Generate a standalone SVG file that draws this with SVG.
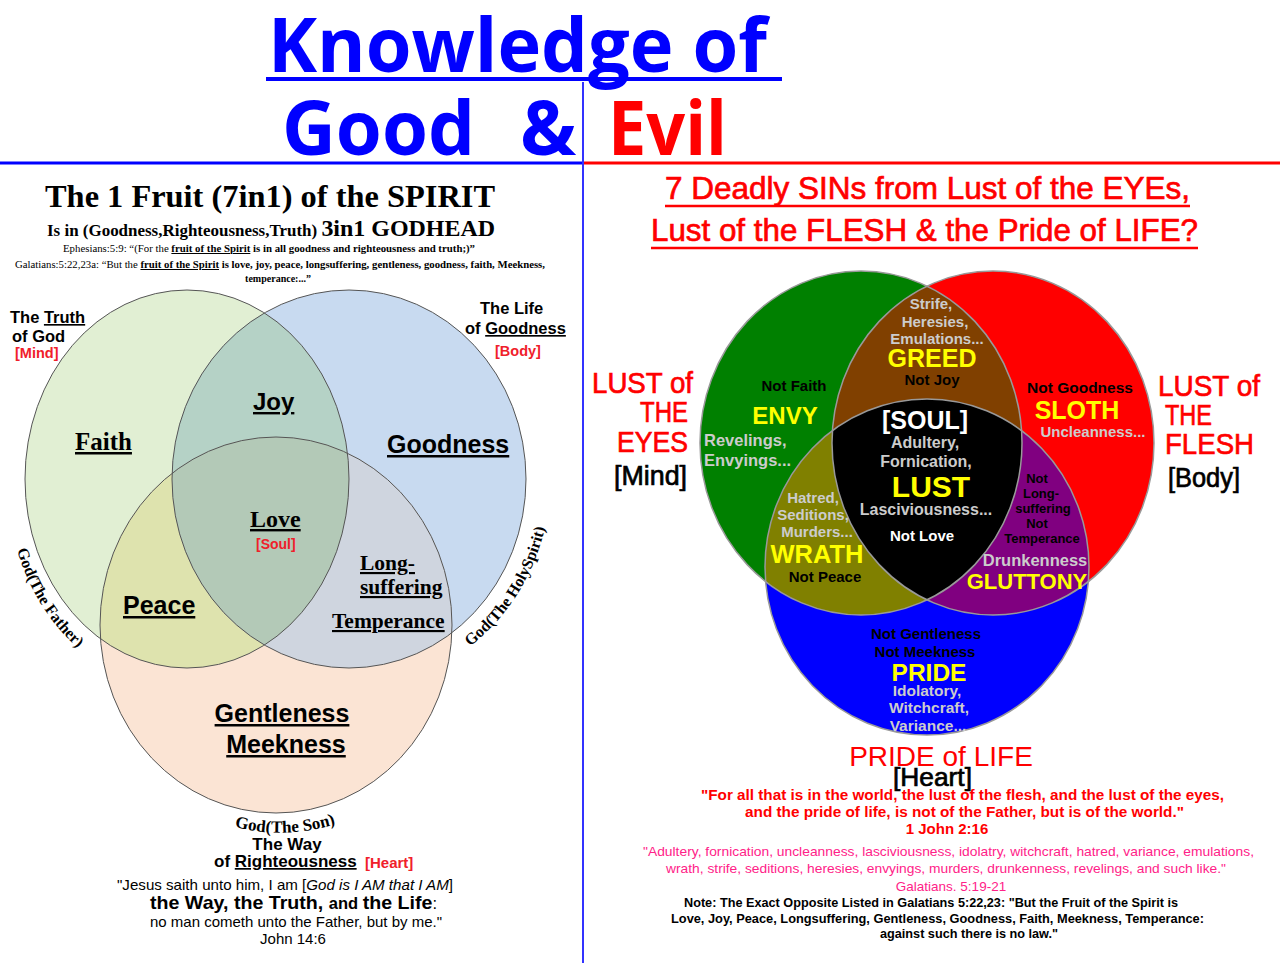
<svg xmlns="http://www.w3.org/2000/svg" width="1280" height="963" viewBox="0 0 1280 963">
<style>
.ser{font-family:"Liberation Serif","Times New Roman",serif;font-weight:bold}
.serr{font-family:"Liberation Serif","Times New Roman",serif}
.sb{font-family:"Liberation Sans",Arial,sans-serif;font-weight:bold}
.sr{font-family:"Liberation Sans",Arial,sans-serif}
.nar{font-family:"Liberation Sans Narrow","Liberation Sans",Arial,sans-serif}
.thk{stroke-width:0.7;paint-order:stroke}
.ttl{font-family:"Open Sans","Noto Sans","Liberation Sans",sans-serif;font-weight:bold}
.u{text-decoration:underline}
.gr{fill:#cccccc}
.yl{fill:#ffff00}
.bk{fill:#000000}
.wh{fill:#ffffff}
.red{fill:#ff0000}
.lred{fill:#f0202a}
.pink{fill:#ff2288}
.mid{text-anchor:middle}
.end{text-anchor:end}
.lo{fill:none;stroke:#555;stroke-width:1}
.ro{fill:none;stroke:#999;stroke-width:1.5}
</style>
<defs>
<clipPath id="clipG"><ellipse cx="861" cy="443" rx="161" ry="172"/></clipPath>
<clipPath id="clipR"><ellipse cx="993" cy="443" rx="161" ry="172"/></clipPath>
<clipPath id="clipLG"><ellipse cx="187" cy="479" rx="162" ry="189"/></clipPath>
<clipPath id="clipLB"><ellipse cx="349" cy="479" rx="177" ry="189"/></clipPath>
<path id="arcFather" d="M 16 546 A 178 206 0 0 0 109 670" fill="none"/>
<path id="arcSpirit" d="M 452 659 A 200 210 0 0 0 550 495" fill="none"/>
<path id="arcSon" d="M 218 822 A 195 207 0 0 0 352 818" fill="none"/>
</defs>
<rect width="1280" height="963" fill="#ffffff"/>

<g id="dividers">
<line x1="0" y1="163" x2="583" y2="163" stroke="#0000ff" stroke-width="3"/>
<line x1="583" y1="163" x2="1280" y2="163" stroke="#ff0000" stroke-width="3"/>
<line x1="583" y1="82" x2="583" y2="963" stroke="#3333ff" stroke-width="2"/>
</g>

<g id="title">
<text class="ttl" x="268" y="72" font-size="75" fill="#0000ff" textLength="499" lengthAdjust="spacingAndGlyphs">Knowledge of</text>
<rect x="266" y="77" width="516" height="4" fill="#0000ff"/>
<text class="ttl" x="282" y="155" font-size="75" fill="#0000ff" textLength="193" lengthAdjust="spacingAndGlyphs">Good</text>
<text class="ttl" x="520" y="155" font-size="75" fill="#0000ff">&amp;</text>
<text class="ttl" x="608" y="155" font-size="75" fill="#ff0000" textLength="119" lengthAdjust="spacingAndGlyphs">Evil</text>
</g>

<g id="left-header">
<text class="ser" x="45" y="207" font-size="32.5" textLength="450" lengthAdjust="spacingAndGlyphs">The 1 Fruit (7in1) of the SPIRIT</text>
<text class="ser" x="47" y="236" textLength="448" lengthAdjust="spacingAndGlyphs"><tspan font-size="17">Is in (Goodness,Righteousness,Truth) </tspan><tspan font-size="24">3in1 GODHEAD</tspan></text>
<text class="serr" x="63" y="252" font-size="10" textLength="412" lengthAdjust="spacingAndGlyphs">Ephesians:5:9:  “(For the <tspan font-weight="bold" class="u">fruit of the Spirit</tspan><tspan font-weight="bold"> is in all goodness and righteousness  and truth;)”</tspan></text>
<text class="serr" x="15" y="268" font-size="10" textLength="530" lengthAdjust="spacingAndGlyphs">Galatians:5:22,23a: “But the <tspan font-weight="bold" class="u">fruit of the Spirit</tspan><tspan font-weight="bold"> is love, joy, peace, longsuffering, gentleness, goodness, faith, Meekness,</tspan></text>
<text class="ser mid" x="278" y="282" font-size="10">temperance:...”</text>
</g>

<g id="venn-left">
<ellipse id="circle-father" cx="187" cy="479" rx="162" ry="189" fill="#e1efd3"/>
<ellipse id="circle-spirit" cx="349" cy="479" rx="177" ry="189" fill="#c8daf0"/>
<ellipse id="circle-son" cx="276" cy="625" rx="176" ry="188" fill="#fbe4d4"/>
<ellipse cx="349" cy="479" rx="177" ry="189" fill="#b5d2c6" clip-path="url(#clipLG)"/>
<ellipse cx="276" cy="625" rx="176" ry="188" fill="#dee3ae" clip-path="url(#clipLG)"/>
<ellipse cx="276" cy="625" rx="176" ry="188" fill="#cfd5df" clip-path="url(#clipLB)"/>
<g clip-path="url(#clipLG)"><ellipse cx="276" cy="625" rx="176" ry="188" fill="#b3c9b7" clip-path="url(#clipLB)"/></g>
<ellipse class="lo" cx="187" cy="479" rx="162" ry="189"/>
<ellipse class="lo" cx="349" cy="479" rx="177" ry="189"/>
<ellipse class="lo" cx="276" cy="625" rx="176" ry="188"/>
</g>

<g id="node-truth">
<text class="sb" x="10" y="323" font-size="16.5">The <tspan class="u">Truth</tspan></text>
<text class="sb" x="12" y="342" font-size="16.5">of God</text>
<text class="sb lred" x="15" y="358" font-size="14.5">[Mind]</text>
<text class="ser" font-size="16"><textPath href="#arcFather" startOffset="4">God(The Father)</textPath></text>
</g>
<g id="node-life">
<text class="sb" x="480" y="314" font-size="16.5">The Life</text>
<text class="sb" x="465" y="334" font-size="16.5">of <tspan class="u">Goodness</tspan></text>
<text class="sb lred" x="495" y="356" font-size="14.5">[Body]</text>
<text class="ser" font-size="16"><textPath href="#arcSpirit" startOffset="22">God(The HolySpirit)</textPath></text>
</g>
<g id="node-way">
<text class="ser mid" font-size="17"><textPath href="#arcSon" startOffset="50%">God(The Son)</textPath></text>
<text class="sb mid" x="287" y="850" font-size="17">The Way</text>
<text class="sb" x="214" y="867" font-size="17">of <tspan class="u">Righteousness</tspan></text>
<text class="sb lred" x="365" y="868" font-size="15">[Heart]</text>
<text class="sr" x="117" y="890" font-size="14.5" textLength="336" lengthAdjust="spacingAndGlyphs">"Jesus saith unto him, I am [<tspan font-style="italic">God is I AM that I AM</tspan>]</text>
<text class="sb" x="150" y="909" textLength="287" lengthAdjust="spacingAndGlyphs"><tspan font-size="19">the Way, the Truth, </tspan><tspan font-size="16">and </tspan><tspan font-size="19">the Life</tspan><tspan font-weight="normal" font-size="16">:</tspan></text>
<text class="sr" x="150" y="927" font-size="14.5" textLength="292" lengthAdjust="spacingAndGlyphs">no man cometh unto the Father, but by me."</text>
<text class="sr mid" x="293" y="944" font-size="15">John 14:6</text>
</g>

<g id="fruits">
<text class="sb u" x="253" y="410" font-size="24">Joy</text>
<text class="ser u" x="75" y="450" font-size="25">Faith</text>
<text class="sb u" x="387" y="453" font-size="25">Goodness</text>
<text class="ser u" x="250" y="527" font-size="24">Love</text>
<text class="sb lred" x="256" y="549" font-size="14">[Soul]</text>
<text class="ser u" x="360" y="570" font-size="21.5">Long-</text>
<text class="ser u" x="360" y="594" font-size="21.5">suffering</text>
<text class="ser u" x="332" y="628" font-size="21.5">Temperance</text>
<text class="sb u" x="123" y="614" font-size="25">Peace</text>
<text class="sb u mid" x="282" y="722" font-size="25">Gentleness</text>
<text class="sb u mid" x="286" y="753" font-size="25">Meekness</text>
</g>

<g id="right-header">
<text class="nar red thk" stroke="#ff0000" x="665" y="199" font-size="32" textLength="525" lengthAdjust="spacingAndGlyphs">7 Deadly SINs from Lust of the EYEs,</text>
<line x1="665" y1="206" x2="1190" y2="206" stroke="#ff0000" stroke-width="2.5"/>
<text class="nar red thk" stroke="#ff0000" x="651" y="241" font-size="32" textLength="547" lengthAdjust="spacingAndGlyphs">Lust of the FLESH &amp; the Pride of LIFE?</text>
<line x1="651" y1="248" x2="1198" y2="248" stroke="#ff0000" stroke-width="2.5"/>
</g>

<g id="venn-right">
<ellipse id="circle-eyes" cx="861" cy="443" rx="161" ry="172" fill="#008000"/>
<ellipse id="circle-flesh" cx="993" cy="443" rx="161" ry="172" fill="#ff0000"/>
<ellipse id="circle-life" cx="927" cy="567" rx="162" ry="168" fill="#0000ff"/>
<ellipse cx="993" cy="443" rx="161" ry="172" fill="#804000" clip-path="url(#clipG)"/>
<ellipse cx="927" cy="567" rx="162" ry="168" fill="#808000" clip-path="url(#clipG)"/>
<ellipse cx="927" cy="567" rx="162" ry="168" fill="#800080" clip-path="url(#clipR)"/>
<g clip-path="url(#clipG)"><ellipse cx="927" cy="567" rx="162" ry="168" fill="#000000" clip-path="url(#clipR)"/></g>
<ellipse class="ro" cx="861" cy="443" rx="161" ry="172"/>
<ellipse class="ro" cx="993" cy="443" rx="161" ry="172"/>
<ellipse class="ro" cx="927" cy="567" rx="162" ry="168"/>
</g>

<g id="node-lust-eyes">
<text class="nar red thk" stroke="#ff0000" x="592" y="393" font-size="30" textLength="101" lengthAdjust="spacingAndGlyphs">LUST of</text>
<text class="nar red thk" stroke="#ff0000" x="640" y="422" font-size="30" textLength="48" lengthAdjust="spacingAndGlyphs">THE</text>
<text class="nar red thk" stroke="#ff0000" x="617" y="452" font-size="30" textLength="71" lengthAdjust="spacingAndGlyphs">EYES</text>
<text class="nar thk" stroke="#000000" x="614" y="485" font-size="27" textLength="73" lengthAdjust="spacingAndGlyphs">[Mind]</text>
</g>
<g id="node-lust-flesh">
<text class="nar red thk" stroke="#ff0000" x="1158" y="396" font-size="30" textLength="102" lengthAdjust="spacingAndGlyphs">LUST of</text>
<text class="nar red thk" stroke="#ff0000" x="1165" y="425" font-size="30" textLength="47" lengthAdjust="spacingAndGlyphs">THE</text>
<text class="nar red thk" stroke="#ff0000" x="1165" y="454" font-size="30" textLength="89" lengthAdjust="spacingAndGlyphs">FLESH</text>
<text class="nar thk" stroke="#000000" x="1168" y="487" font-size="27" textLength="72" lengthAdjust="spacingAndGlyphs">[Body]</text>
</g>
<g id="node-pride-life">
<text class="sr red mid" x="941" y="766" font-size="28">PRIDE of LIFE</text>
<text class="nar thk" stroke="#000000" x="893" y="786" font-size="26" textLength="79" lengthAdjust="spacingAndGlyphs">[Heart]</text>
</g>

<g id="sin-greed">
<text class="sb gr mid" x="931" y="309" font-size="15">Strife,</text>
<text class="sb gr mid" x="935" y="327" font-size="15">Heresies,</text>
<text class="sb gr mid" x="937" y="344" font-size="15">Emulations...</text>
<text class="sb yl mid" x="932" y="367" font-size="25">GREED</text>
<text class="sb bk mid" x="932" y="385" font-size="15">Not Joy</text>
</g>
<g id="sin-envy">
<text class="sb bk mid" x="794" y="391" font-size="15">Not Faith</text>
<text class="sb yl mid" x="785" y="424" font-size="24">ENVY</text>
<text class="sb gr" x="704" y="446" font-size="16.5">Revelings,</text>
<text class="sb gr" x="704" y="466" font-size="16.5">Envyings...</text>
</g>
<g id="sin-lust">
<text class="sb wh mid" x="925" y="429" font-size="25">[SOUL]</text>
<text class="sb gr mid" x="925" y="448" font-size="16">Adultery,</text>
<text class="sb gr mid" x="926" y="467" font-size="16">Fornication,</text>
<text class="sb yl mid" x="931" y="497" font-size="30">LUST</text>
<text class="sb gr mid" x="926" y="515" font-size="16">Lasciviousness...</text>
<text class="sb wh mid" x="922" y="541" font-size="15">Not Love</text>
</g>
<g id="sin-wrath">
<text class="sb gr mid" x="813" y="503" font-size="15">Hatred,</text>
<text class="sb gr mid" x="813" y="520" font-size="15">Seditions,</text>
<text class="sb gr mid" x="817" y="537" font-size="15">Murders...</text>
<text class="sb yl mid" x="817" y="563" font-size="25.5">WRATH</text>
<text class="sb bk mid" x="825" y="582" font-size="15">Not Peace</text>
</g>
<g id="sin-sloth">
<text class="sb bk mid" x="1080" y="393" font-size="15.5">Not Goodness</text>
<text class="sb yl mid" x="1077" y="419" font-size="25">SLOTH</text>
<text class="sb gr mid" x="1093" y="437" font-size="15">Uncleanness...</text>
</g>
<g id="sin-gluttony">
<text class="sb bk mid" x="1037" y="483" font-size="13">Not</text>
<text class="sb bk mid" x="1041" y="498" font-size="13">Long-</text>
<text class="sb bk mid" x="1043" y="513" font-size="13">suffering</text>
<text class="sb bk mid" x="1037" y="528" font-size="13">Not</text>
<text class="sb bk mid" x="1042" y="543" font-size="13">Temperance</text>
<text class="sb gr mid" x="1035" y="566" font-size="16.5">Drunkenness</text>
<text class="sb yl mid" x="1027" y="589" font-size="22">GLUTTONY</text>
</g>
<g id="sin-pride">
<text class="sb bk mid" x="926" y="639" font-size="15">Not Gentleness</text>
<text class="sb bk mid" x="925" y="657" font-size="15">Not Meekness</text>
<text class="sb yl mid" x="929" y="681" font-size="24.5">PRIDE</text>
<text class="sb gr mid" x="927" y="696" font-size="15.5">Idolatory,</text>
<text class="sb gr mid" x="929" y="713" font-size="15.5">Witchcraft,</text>
<text class="sb gr mid" x="928" y="731" font-size="15.5">Variance...</text>
</g>

<g id="right-footer">
<text class="nar red" x="701" y="800" font-size="15" font-weight="bold" textLength="523" lengthAdjust="spacingAndGlyphs">"For all that is in the world, the lust of the flesh, and the lust of the eyes,</text>
<text class="nar red" x="745" y="817" font-size="15" font-weight="bold" textLength="439" lengthAdjust="spacingAndGlyphs">and the pride of life, is not of the Father, but is of the world."</text>
<text class="nar red mid" x="947" y="834" font-size="15" font-weight="bold">1 John 2:16</text>
<text class="nar pink" x="643" y="856" font-size="13.5" textLength="611" lengthAdjust="spacingAndGlyphs">"Adultery, fornication, uncleanness, lasciviousness, idolatry, witchcraft, hatred, variance, emulations,</text>
<text class="nar pink" x="666" y="873" font-size="13.5" textLength="560" lengthAdjust="spacingAndGlyphs">wrath, strife, seditions, heresies, envyings, murders,  drunkenness, revelings, and such like."</text>
<text class="nar pink mid" x="951" y="891" font-size="13.5">Galatians. 5:19-21</text>
<text class="nar" x="684" y="907" font-size="12.5" font-weight="bold" textLength="494" lengthAdjust="spacingAndGlyphs">Note: The Exact Opposite Listed in Galatians 5:22,23: "But the Fruit of the Spirit is</text>
<text class="nar" x="671" y="923" font-size="12.5" font-weight="bold" textLength="533" lengthAdjust="spacingAndGlyphs">Love, Joy, Peace, Longsuffering, Gentleness, Goodness, Faith, Meekness, Temperance:</text>
<text class="nar" x="880" y="938" font-size="12.5" font-weight="bold" textLength="178" lengthAdjust="spacingAndGlyphs">against such there is no law."</text>
</g>
</svg>
